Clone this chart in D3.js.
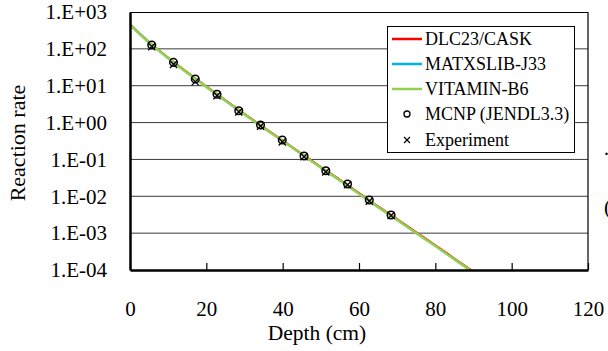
<!DOCTYPE html>
<html>
<head>
<meta charset="utf-8">
<script src="https://cdn.jsdelivr.net/npm/d3@7"></script>
<style>
    body { margin: 0; background: #fff; }
</style>
</head>
<body>
<div id="chart"></div>
<script>
// depth points for the calculated curves (cm)
var lineDepth = [0, 5, 10, 15, 20, 25, 30, 35, 40, 45, 50, 55, 60, 65, 70, 75, 80, 85, 90]
var dlc23 = [452, 151, 57.5, 23.0, 9.6, 4.0, 1.71, 0.745, 0.327, 0.143, 0.062, 0.0281, 0.0122, 0.0053, 0.00239, 0.00105, 0.00047, 0.000205, 0.000090]
var matxslib = [470, 154, 57, 22.7, 9.45, 3.95, 1.68, 0.73, 0.32, 0.140, 0.061, 0.0274, 0.0119, 0.0052, 0.00233, 0.00102, 0.000455, 0.000199, 0.0000870]
var vitamin = [444, 148, 56, 22.4, 9.3, 3.9, 1.66, 0.72, 0.316, 0.138, 0.060, 0.027, 0.0117, 0.0051, 0.00229, 0.0010, 0.000447, 0.000195, 0.000085]

// measured / MCNP points
var pointDepth = [5.7, 11.4, 17.1, 22.8, 28.5, 34.2, 39.9, 45.6, 51.3, 57.0, 62.7, 68.4]
var mcnp = [127, 43, 15.2, 5.85, 2.10, 0.86, 0.336, 0.124, 0.0495, 0.0216, 0.0079, 0.00311]
var experiment = [115, 38, 12.8, 5.4, 1.95, 0.80, 0.30, 0.118, 0.046, 0.0205, 0.0074, 0.0030]

var xTicks = [0, 20, 40, 60, 80, 100, 120]
var yTicks = [1e-4, 1e-3, 1e-2, 1e-1, 1, 1e1, 1e2, 1e3]

var seriesNames = ["DLC23/CASK", "MATXSLIB-J33", "VITAMIN-B6", "MCNP (JENDL3.3)", "Experiment"]

var svgWidth = 608
var svgHeight = 351
var margin = { top: 12, right: 20, bottom: 81, left: 130 }
var chartWidth = svgWidth - margin.left - margin.right
var chartHeight = svgHeight - margin.top - margin.bottom
var serif = "'Liberation Serif'"

var svg = d3.select('#chart')
            .append('svg')
            .attr('width', svgWidth)
            .attr('height', svgHeight)

var chartGroup = svg.append('g')
                    .attr('transform', `translate(${margin.left}, ${margin.top})`)

var xScale = d3.scaleLinear().domain([0, 120]).range([0, chartWidth])
var yScale = d3.scaleLog().domain([1e-4, 1e3]).range([chartHeight, 0])

// "1.E+03" style labels
function sciLabel(d) {
    var e = Math.round(Math.log10(d))
    return "1.E" + (e < 0 ? "-" : "+") + String(Math.abs(e)).padStart(2, "0")
}

// horizontal grid lines
chartGroup.append('g')
    .selectAll('line')
    .data(yTicks.slice(1, -1))
    .enter()
    .append('line')
    .attr('x1', 0)
    .attr('x2', chartWidth)
    .attr('y1', d => yScale(d))
    .attr('y2', d => yScale(d))
    .attr('stroke', '#3a3a3a')
    .attr('stroke-width', 1)

// top and right border of the plot area
chartGroup.append('path')
    .attr('d', `M0,0.5H${chartWidth}V${chartHeight}`)
    .attr('fill', 'none')
    .attr('stroke', '#000')
    .attr('stroke-width', 1.2)

// clip so the curves stop at the bottom axis
svg.append('clipPath').attr('id', 'plotClip')
    .append('rect')
    .attr('width', chartWidth)
    .attr('height', chartHeight)

var curves = [
    { values: matxslib, color: '#00b0f0', width: 2 },
    { values: dlc23, color: '#ff0000', width: 2 },
    { values: vitamin, color: '#92d050', width: 2.6 }
]

var line = d3.line()
             .x(d => xScale(d[0]))
             .y(d => yScale(d[1]))
             .curve(d3.curveMonotoneX)

var curveGroup = chartGroup.append('g').attr('clip-path', 'url(#plotClip)')
curves.forEach(c => {
    curveGroup.append('path')
        .datum(lineDepth.map((d, i) => [d, c.values[i]]))
        .attr('d', line)
        .attr('fill', 'none')
        .attr('stroke', c.color)
        .attr('stroke-width', c.width)
})

// MCNP circles
chartGroup.append('g')
    .selectAll('circle')
    .data(pointDepth.map((d, i) => [d, mcnp[i]]))
    .enter()
    .append('circle')
    .attr('cx', d => xScale(d[0]))
    .attr('cy', d => yScale(d[1]))
    .attr('r', 3.8)
    .attr('fill', 'none')
    .attr('stroke', '#000')
    .attr('stroke-width', 1.5)

// experiment crosses
var cross = 3.6
chartGroup.append('g')
    .selectAll('path')
    .data(pointDepth.map((d, i) => [d, experiment[i]]))
    .enter()
    .append('path')
    .attr('d', d => {
        var x = xScale(d[0]), y = yScale(d[1])
        return `M${x - cross},${y - cross}L${x + cross},${y + cross}M${x - cross},${y + cross}L${x + cross},${y - cross}`
    })
    .attr('stroke', '#000')
    .attr('stroke-width', 1.3)

// bottom axis, ticks point up into the plot
var bottomAxis = d3.axisBottom(xScale)
                   .tickValues(xTicks)
                   .tickSizeInner(-7)
                   .tickSizeOuter(0)
                   .tickPadding(31)
var xAxisG = chartGroup.append('g')
    .attr('transform', `translate(0, ${chartHeight})`)
    .call(bottomAxis)
xAxisG.select('.domain').attr('stroke-width', 2.5)
xAxisG.selectAll('line').attr('stroke-width', 1.2)

// left axis, labels only
var leftAxis = d3.axisLeft(yScale)
                 .tickValues(yTicks)
                 .tickFormat(sciLabel)
                 .tickSize(0)
                 .tickPadding(23)
var yAxisG = chartGroup.append('g').call(leftAxis)
yAxisG.select('.domain').attr('stroke-width', 2.5)

// axis tick labels in Times-like font
svg.selectAll('.tick text')
    .style('font-family', serif)
    .style('font-size', '21px')
    .attr('fill', '#000')

// axis titles
svg.append('text')
    .attr('x', margin.left + xScale(49))
    .attr('y', 340)
    .attr('text-anchor', 'middle')
    .style('font-family', serif)
    .style('font-size', '21.5px')
    .text('Depth (cm)')

svg.append('text')
    .attr('transform', 'translate(25, 143) rotate(-90)')
    .attr('text-anchor', 'middle')
    .style('font-family', serif)
    .style('font-size', '22px')
    .text('Reaction rate')

// legend
var legend = svg.append('g').attr('transform', 'translate(387, 26)')
legend.append('rect')
    .attr('x', 0.5)
    .attr('y', 0.5)
    .attr('width', 187)
    .attr('height', 126)
    .attr('fill', '#fff')
    .attr('stroke', '#000')
    .attr('stroke-width', 1)

var legendColors = ['#ff0000', '#00b0f0', '#92d050']
var rowY = [13, 38, 63, 88, 114]
seriesNames.forEach((name, i) => {
    var y = rowY[i]
    if (i < 3) {
        legend.append('line')
            .attr('x1', 5).attr('x2', 35)
            .attr('y1', y).attr('y2', y)
            .attr('stroke', legendColors[i])
            .attr('stroke-width', 2.5)
    } else if (i === 3) {
        legend.append('circle')
            .attr('cx', 20).attr('cy', y)
            .attr('r', 3)
            .attr('fill', 'none')
            .attr('stroke', '#000')
            .attr('stroke-width', 1.3)
    } else {
        var s = 3
        legend.append('path')
            .attr('d', `M${20 - s},${y - s}L${20 + s},${y + s}M${20 - s},${y + s}L${20 + s},${y - s}`)
            .attr('stroke', '#000')
            .attr('stroke-width', 1.2)
    }
    legend.append('text')
        .attr('x', 38)
        .attr('y', y + 6)
        .style('font-family', serif)
        .style('font-size', '18px')
        .text(name)
})

// bits of text cut off at the right edge of the picture
svg.append('text').attr('x', 603).attr('y', 161)
    .style('font-family', serif).style('font-size', '21px').text('·')
svg.append('text').attr('x', 604).attr('y', 214)
    .style('font-family', serif).style('font-size', '21px').text('(')
</script>
</body>
</html>
